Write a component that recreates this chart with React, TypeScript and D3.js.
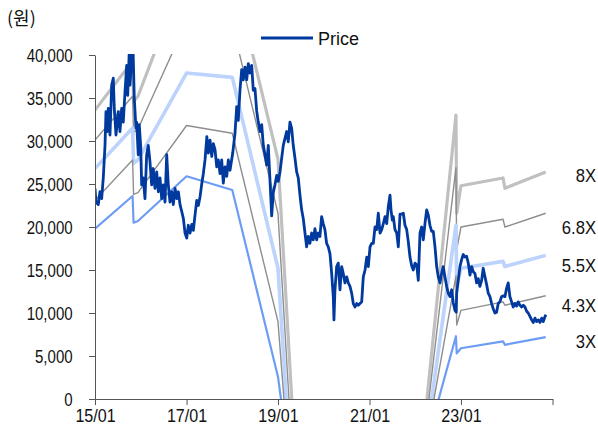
import React, { useEffect, useRef } from "react";
import * as d3 from "d3";

// price, [decimal year, won]
const price: [number, number][] = [
  [2015.000, 24500], [2015.022, 22900], [2015.072, 22600], [2015.109, 24100], [2015.146, 23300],
  [2015.181, 25700], [2015.219, 29500], [2015.240, 33400], [2015.269, 31100], [2015.291, 33800],
  [2015.328, 30700], [2015.365, 36500], [2015.400, 37300], [2015.422, 33800], [2015.459, 30700],
  [2015.509, 33400], [2015.546, 31100], [2015.584, 33800], [2015.619, 32200], [2015.656, 35700],
  [2015.693, 38800], [2015.715, 35300], [2015.750, 40500], [2015.765, 36500], [2015.802, 39600],
  [2015.831, 41000], [2015.859, 35000], [2015.896, 31500], [2015.911, 32200], [2015.946, 28400],
  [2015.968, 31900], [2015.999, 29500], [2016.021, 24900], [2016.056, 25700], [2016.093, 23300],
  [2016.130, 28400], [2016.165, 29500], [2016.202, 27600], [2016.239, 24900], [2016.274, 26800],
  [2016.311, 24500], [2016.349, 26400], [2016.384, 24100], [2016.421, 25700], [2016.458, 23300],
  [2016.493, 24900], [2016.530, 22900], [2016.567, 28400], [2016.602, 24900], [2016.639, 22900],
  [2016.676, 24100], [2016.711, 22600], [2016.749, 24500], [2016.786, 23300], [2016.821, 24100],
  [2016.858, 22600], [2016.895, 21800], [2016.930, 21000], [2016.967, 19300], [2017.004, 18700],
  [2017.039, 20200], [2017.077, 19300], [2017.114, 20300], [2017.149, 19600], [2017.186, 21400],
  [2017.223, 23100], [2017.258, 22500], [2017.295, 23500], [2017.332, 25000], [2017.367, 26200],
  [2017.404, 27800], [2017.444, 30500], [2017.477, 28600], [2017.514, 30100], [2017.551, 28200],
  [2017.586, 29700], [2017.623, 29000], [2017.660, 27000], [2017.695, 27800], [2017.732, 26200],
  [2017.769, 27800], [2017.804, 25100], [2017.842, 27000], [2017.879, 25900], [2017.914, 27800],
  [2017.951, 26600], [2018.010, 28600], [2018.060, 30900], [2018.097, 34000], [2018.132, 32400],
  [2018.169, 35900], [2018.206, 38300], [2018.242, 37100], [2018.279, 38600], [2018.316, 37100],
  [2018.351, 39000], [2018.388, 37900], [2018.425, 38800], [2018.460, 35900], [2018.497, 36100],
  [2018.534, 33500], [2018.569, 32200], [2018.607, 31100], [2018.644, 31900], [2018.679, 29500],
  [2018.716, 28400], [2018.753, 27200], [2018.788, 29500], [2018.825, 25500], [2018.862, 21300],
  [2018.897, 24000], [2018.934, 24900], [2018.972, 26000], [2019.007, 25300], [2019.044, 26400],
  [2019.081, 28000], [2019.116, 29500], [2019.153, 30300], [2019.190, 31100], [2019.225, 29900],
  [2019.262, 32200], [2019.299, 31500], [2019.334, 29500], [2019.372, 28000], [2019.409, 26400],
  [2019.444, 25700], [2019.481, 23700], [2019.518, 22000], [2019.553, 21000], [2019.575, 20000],
  [2019.627, 17700], [2019.662, 18900], [2019.699, 18100], [2019.737, 19300], [2019.772, 18500],
  [2019.809, 19800], [2019.846, 18500], [2019.881, 19300], [2019.918, 18900], [2019.955, 21200],
  [2019.990, 20400], [2020.027, 19700], [2020.064, 18100], [2020.099, 17700], [2020.137, 16900],
  [2020.174, 14600], [2020.209, 11900], [2020.224, 9200], [2020.246, 12700], [2020.283, 15400],
  [2020.318, 15800], [2020.355, 12700], [2020.392, 15400], [2020.427, 14600], [2020.464, 13500],
  [2020.502, 14200], [2020.537, 13500], [2020.574, 13100], [2020.611, 12300], [2020.646, 11100],
  [2020.683, 10700], [2020.720, 11100], [2020.755, 10900], [2020.792, 11100], [2020.829, 11300],
  [2020.864, 14200], [2020.902, 15000], [2020.939, 16500], [2020.974, 15400], [2021.011, 17700],
  [2021.048, 18100], [2021.083, 18100], [2021.120, 20000], [2021.157, 19700], [2021.192, 21600],
  [2021.230, 19300], [2021.267, 19700], [2021.302, 20400], [2021.339, 21200], [2021.376, 20400],
  [2021.411, 22400], [2021.448, 23700], [2021.470, 22000], [2021.498, 20800], [2021.520, 21200],
  [2021.557, 19700], [2021.595, 19300], [2021.630, 17700], [2021.667, 21500], [2021.704, 21500],
  [2021.739, 21600], [2021.776, 20200], [2021.813, 19700], [2021.848, 18300], [2021.885, 16500],
  [2021.922, 15500], [2021.957, 15000], [2021.995, 15800], [2022.032, 15600], [2022.067, 13800],
  [2022.104, 19300], [2022.141, 20000], [2022.176, 18500], [2022.213, 20400], [2022.250, 22000],
  [2022.285, 21400], [2022.322, 20200], [2022.360, 19500], [2022.395, 19500], [2022.432, 17700],
  [2022.469, 15400], [2022.504, 14200], [2022.541, 13500], [2022.578, 14600], [2022.613, 15400],
  [2022.650, 14200], [2022.687, 13100], [2022.722, 12300], [2022.760, 11900], [2022.797, 12700],
  [2022.832, 11200], [2022.869, 10300], [2022.897, 10100], [2022.906, 12300], [2022.941, 13800],
  [2022.978, 15400], [2023.015, 16200], [2023.050, 16800], [2023.087, 16500], [2023.124, 16600],
  [2023.160, 15800], [2023.197, 14400], [2023.234, 15400], [2023.269, 14800], [2023.306, 14600],
  [2023.343, 13500], [2023.378, 14000], [2023.415, 13100], [2023.452, 13800], [2023.487, 15200],
  [2023.525, 14200], [2023.562, 13300], [2023.597, 12300], [2023.634, 11900], [2023.671, 11100],
  [2023.706, 10500], [2023.743, 10000], [2023.780, 10100], [2023.815, 11100], [2023.852, 11300],
  [2023.889, 11900], [2023.924, 12000], [2023.962, 11900], [2023.999, 12900], [2024.034, 13500],
  [2024.071, 11900], [2024.108, 11300], [2024.143, 10700], [2024.180, 11100], [2024.217, 10800],
  [2024.252, 11300], [2024.290, 10900], [2024.327, 10700], [2024.362, 10900], [2024.399, 10700],
  [2024.436, 10200], [2024.471, 10000], [2024.508, 9600], [2024.545, 9200], [2024.580, 8900],
  [2024.617, 9400], [2024.654, 9000], [2024.689, 9200], [2024.727, 8900], [2024.764, 9400],
  [2024.799, 9000], [2024.836, 9600], [2024.858, 9800],
];

// band lines (multiple bands), same dates for all
const bandDates = [
  "2015-01-01", "2015-10-28", "2015-11-05", "2015-12-10", "2017-01-01",
  "2018-01-01", "2019-01-01", "2019-07-01", "2022-01-01", "2022-11-22",
  "2022-11-28", "2023-01-01", "2023-12-03", "2023-12-18", "2024-11-08",
];
const band8 = [33600, 39300, 34600, 35200, 50000, 49900, 27900, -18000, -13400, 33000, 21600, 24800, 25700, 24500, 26400];
const band68 = [30100, 35200, 31000, 31400, 43900, 43600, 21600, -23000, -13700, 26900, 17300, 20000, 20900, 20000, 21600];
const band55 = [26800, 31500, 27400, 27800, 37900, 37400, 15200, -26000, -13700, 20200, 13100, 15200, 16000, 15400, 16700];
const band43 = [23100, 27800, 23800, 24000, 31800, 30900, 9000, -25000, -12200, 14300, 8600, 10300, 11300, 10900, 12000];
const band3 = [19800, 23600, 20500, 20700, 25900, 24300, 2600, -17000, -9900, 7300, 5300, 5900, 6700, 6300, 7200];

const bandLabels = ["8X", "6.8X", "5.5X", "4.3X", "3X"];
const bandLabelAt = [26000, 20000, 15600, 10900, 6700]; // where the right-hand labels sit

const yTicks = [0, 5000, 10000, 15000, 20000, 25000, 30000, 35000, 40000];
const xTickYears = [2015, 2017, 2019, 2021, 2023, 2025];

const bandStyle = [
  { color: "#c0c0c0", width: 3.2 },
  { color: "#8e8e8e", width: 1.4 },
  { color: "#bcd3fb", width: 3.6 },
  { color: "#8e8e8e", width: 1.4 },
  { color: "#6d9cf5", width: 2.2 },
];
const priceColor = "#003a9e";
const font = "'Liberation Sans', Arial, sans-serif";

const fromYear = (y: number) => {
  const yr = Math.floor(y);
  const a = new Date(yr, 0, 1).getTime();
  const b = new Date(yr + 1, 0, 1).getTime();
  return new Date(a + (y - yr) * (b - a));
};

const App = () => {
  const svgRef = useRef<SVGSVGElement>(null);

  useEffect(() => {
    const width = 598;
    const height = 427;
    const margin = { left: 95, right: 45.5, top: 55, bottom: 28 };

    const svg = d3.select(svgRef.current);
    svg.selectAll("*").remove();
    svg.attr("width", width).attr("height", height);

    const x = d3.scaleTime()
      .domain([new Date(2015, 0, 1), new Date(2025, 0, 1)])
      .range([margin.left, width - margin.right]);
    const y = d3.scaleLinear()
      .domain([0, 40000])
      .range([height - margin.bottom, margin.top]);

    svg.append("clipPath").attr("id", "plot-clip")
      .append("rect")
      .attr("x", margin.left)
      .attr("y", margin.top - 1)
      .attr("width", width - margin.left - margin.right)
      .attr("height", height - margin.top - margin.bottom + 1);

    const parse = d3.timeParse("%Y-%m-%d");
    const dates = bandDates.map((d) => parse(d) as Date);
    const bandSeries = [band8, band68, band55, band43, band3];

    const lines = svg.append("g").attr("clip-path", "url(#plot-clip)");

    const bandLine = d3.line<number>()
      .x((_, i) => x(dates[i]))
      .y((v) => y(v));

    bandSeries.forEach((vals, i) => {
      lines.append("path")
        .attr("d", bandLine(vals))
        .attr("fill", "none")
        .attr("stroke", bandStyle[i].color)
        .attr("stroke-width", bandStyle[i].width)
        .attr("stroke-linejoin", "round");
    });

    const priceLine = d3.line<[number, number]>()
      .x((d) => x(fromYear(d[0])))
      .y((d) => y(d[1]));

    lines.append("path")
      .attr("d", priceLine(price))
      .attr("fill", "none")
      .attr("stroke", priceColor)
      .attr("stroke-width", 2.8)
      .attr("stroke-linejoin", "round");

    // y axis
    const yAxis = d3.axisLeft(y)
      .tickValues(yTicks)
      .tickSize(6)
      .tickSizeOuter(0)
      .tickFormat((d) => d3.format(",")(d as number));

    const gy = svg.append("g")
      .attr("transform", `translate(${margin.left},0)`)
      .call(yAxis);
    gy.select(".domain").attr("stroke", "#555");
    gy.selectAll(".tick line").attr("stroke", "#555");
    gy.selectAll(".tick text")
      .attr("x", -26)
      .attr("dy", "0.36em")
      .attr("transform", "scale(0.86,1)")
      .attr("fill", "#111")
      .style("font-family", font)
      .style("font-size", "17.5px");
    gy.attr("font-size", null).attr("font-family", null);

    // x axis
    const xAxis = d3.axisBottom(x)
      .tickValues(xTickYears.map((yr) => new Date(yr, 0, 1)))
      .tickSize(6)
      .tickSizeOuter(0)
      .tickFormat((d) => {
        const yr = (d as Date).getFullYear();
        return yr === 2025 ? "" : d3.timeFormat("%y/%m")(d as Date);
      });

    const gx = svg.append("g")
      .attr("transform", `translate(0,${height - margin.bottom})`)
      .call(xAxis);
    gx.select(".domain").attr("stroke", "#555");
    gx.selectAll(".tick line").attr("stroke", "#555");
    gx.selectAll(".tick text")
      .attr("y", 11)
      .attr("transform", "scale(0.92,1)")
      .attr("fill", "#111")
      .style("font-family", font)
      .style("font-size", "17.5px");
    gx.attr("font-size", null).attr("font-family", null);

    // unit label
    svg.append("text")
      .attr("x", 7)
      .attr("y", 25)
      .attr("fill", "#111")
      .style("font-family", "'Noto Sans CJK KR', sans-serif")
      .style("font-size", "18px")
      .text("(원)");

    // legend
    svg.append("line")
      .attr("x1", 261).attr("x2", 313)
      .attr("y1", 38).attr("y2", 38)
      .attr("stroke", priceColor)
      .attr("stroke-width", 3);
    svg.append("text")
      .attr("x", 318)
      .attr("y", 44.5)
      .attr("fill", "#111")
      .style("font-family", font)
      .style("font-size", "18px")
      .text("Price");

    // multiple labels on the right
    bandLabels.forEach((lab, i) => {
      svg.append("text")
        .attr("transform", `translate(596,${y(bandLabelAt[i])}) scale(0.9,1)`)
        .attr("text-anchor", "end")
        .attr("dy", "0.36em")
        .attr("fill", "#111")
        .style("font-family", font)
        .style("font-size", "18.5px")
        .text(lab);
    });
  }, []);

  return (
    <svg ref={svgRef} style={{ position: "absolute", left: 0, top: 0 }}></svg>
  );
};

export default App;
